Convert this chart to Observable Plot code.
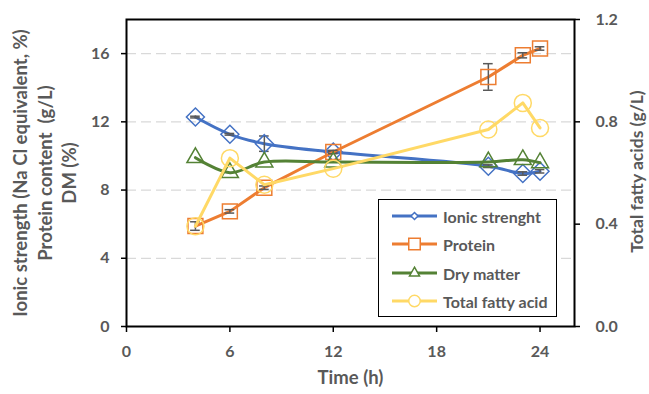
<!DOCTYPE html>
<html>
<head>
<meta charset="utf-8">
<script src="https://cdn.jsdelivr.net/npm/d3@7"></script>
<script src="https://cdn.jsdelivr.net/npm/@observablehq/plot@0.6"></script>
<style>
  html, body { margin: 0; padding: 0; background: #fff; }
  #wrap { position: relative; width: 649px; height: 394px; font-family: Lato, "Open Sans", sans-serif; }
  #legend { position: absolute; left: 378px; top: 199px; width: 177px; height: 116px;
    border: 1.5px solid #000; background: #fff; }
  .row { position: absolute; left: 0; height: 22px; display: flex; align-items: center; }
  .row span { font-size: 16px; font-weight: 700; color: #595959; margin-left: 3px; white-space: nowrap; }
</style>
</head>
<body>
<div id="wrap"></div>
<script>
// ---- data ----
const time = [4, 6, 8, 12, 21, 23, 24];
const ionic = [12.28, 11.27, 10.72, 10.23, 9.4, 8.97, 9.1];
const ionicErr = [0.05, 0.05, 0.45, 0.05, 0.08, 0.1, 0.1];
const protein = [5.89, 6.75, 8.14, 10.23, 14.63, 15.9, 16.3];
const proteinErr = [0.25, 0.1, 0.1, 0.1, 0.78, 0.15, 0.1];
const dryMatter = [9.9, 9.02, 9.64, 9.64, 9.65, 9.78, 9.6];
const fattyAcid = [0.392, 0.658, 0.554, 0.617, 0.77, 0.874, 0.776];

const seriesNames = ["Ionic strenght", "Protein", "Dry matter", "Total fatty acid"];
const colors = ["#4472C4", "#ED7D31", "#548235", "#FFD966"];
const symbols = ["diamond2", "square2", "triangle2", "circle"];

const xTicks = [0, 6, 12, 18, 24];
const yTicks = [0, 4, 8, 12, 16];
const gridTicks = [4, 8, 12, 16];
const rightTicks = [0, 0.4, 0.8, 1.2];
const ratio = 15; // left/right axis ratio (18 <-> 1.2)

const leftLabel = "Ionic strength (Na Cl equivalent, %)\nProtein content\u00A0 (g/L)\nDM (%)";
const rightLabel = "Total fatty acids (g/L)";
const xLabel = "Time (h)";

// ---- tables ----
const mk = (vals, errs) => time.map((t, i) => ({t, v: vals[i], e: errs ? errs[i] : 0}));
const dIon = mk(ionic, ionicErr);
const dPro = mk(protein, proteinErr);
const dDm = mk(dryMatter);
const dTfa = time.map((t, i) => ({t, v: fattyAcid[i] * ratio}));

const cap = 0.28;
function errMarks(data) {
  return [
    Plot.ruleX(data, {x: "t", y1: d => d.v - d.e, y2: d => d.v + d.e, stroke: "#595959", strokeWidth: 1.5}),
    Plot.ruleY(data, {y: d => d.v - d.e, x1: d => d.t - cap, x2: d => d.t + cap, stroke: "#595959", strokeWidth: 1.5}),
    Plot.ruleY(data, {y: d => d.v + d.e, x1: d => d.t - cap, x2: d => d.t + cap, stroke: "#595959", strokeWidth: 1.5})
  ];
}

const chart = Plot.plot({
  width: 649,
  height: 394,
  marginLeft: 126,
  marginRight: 75,
  marginTop: 19,
  marginBottom: 68,
  style: {fontFamily: "Lato, 'Open Sans', sans-serif", fontSize: "16px", fontWeight: 700, background: "#fff"},
  x: {domain: [0, 26]},
  y: {domain: [0, 18]},
  marks: [
    Plot.ruleY(gridTicks, {stroke: "#d9d9d9", strokeWidth: 1.3, strokeDasharray: "10,5"}),
    // Ionic
    Plot.line(dIon, {x: "t", y: "v", stroke: colors[0], strokeWidth: 3, curve: "catmull-rom"}),
    ...errMarks(dIon),
    Plot.dot(dIon, {x: "t", y: "v", symbol: symbols[0], r: 8.1, stroke: colors[0], strokeWidth: 1.5, fill: "none"}),
    // Protein
    Plot.line(dPro, {x: "t", y: "v", stroke: colors[1], strokeWidth: 3}),
    ...errMarks(dPro),
    Plot.dot(dPro, {x: "t", y: "v", symbol: symbols[1], r: 9.5, stroke: colors[1], strokeWidth: 1.5, fill: "none"}),
    // Dry matter
    Plot.line(dDm, {x: "t", y: "v", stroke: colors[2], strokeWidth: 3, curve: "catmull-rom"}),
    Plot.dot(dDm, {x: "t", y: "v", symbol: symbols[2], r: 8.1, stroke: colors[2], strokeWidth: 1.5, fill: "none"}),
    // Total fatty acid (secondary axis)
    Plot.line(dTfa, {x: "t", y: "v", stroke: colors[3], strokeWidth: 3}),
    Plot.dot(dTfa, {x: "t", y: "v", symbol: symbols[3], r: 8.5, stroke: colors[3], strokeWidth: 1.5, fill: "none"}),
    // frame & axes
    Plot.frame({stroke: "#000", strokeWidth: 2}),
    Plot.axisX({ticks: xTicks, tickSize: 6, tickPadding: 13, stroke: "#000", strokeWidth: 1.5, fill: "#595959", label: null}),
    Plot.axisY({ticks: yTicks, tickSize: 5, tickPadding: 12, stroke: "#000", strokeWidth: 1.5, fill: "#595959", label: null}),
    Plot.axisY({anchor: "right", ticks: rightTicks.map(v => v * ratio), tickFormat: d => (d / ratio).toFixed(1),
      tickSize: 5, tickPadding: 16, stroke: "#000", strokeWidth: 1.5, fill: "#595959", label: null}),
    Plot.text([xLabel], {frameAnchor: "bottom", dy: 57, fill: "#595959", fontWeight: 700, fontSize: 18.5}),
    Plot.text([leftLabel], {frameAnchor: "left", textAnchor: "middle", rotate: -90, dx: -82.5, lineHeight: 1.32, fill: "#595959", fontWeight: 700, fontSize: 18.5}),
    Plot.text([rightLabel], {frameAnchor: "right", textAnchor: "middle", rotate: -90, dx: 63, dy: -1.5, fill: "#595959", fontWeight: 700, fontSize: 17.5})
  ]
});

const wrap = document.getElementById("wrap");
wrap.appendChild(chart);

// ---- legend (inside plot area) ----
const legend = document.createElement("div");
legend.id = "legend";
const legendSizes = [[7, "diamond2"], [11.5, "square2"], [10, "triangle2"], [11.5, "circle"]];
const rowTops = [5, 33, 62, 90];
seriesNames.forEach((name, i) => {
  const row = document.createElement("div");
  row.className = "row";
  row.style.top = rowTops[i] + "px";
  const svgNS = "http://www.w3.org/2000/svg";
  const svg = document.createElementNS(svgNS, "svg");
  svg.setAttribute("width", 61); svg.setAttribute("height", 22);
  const line = document.createElementNS(svgNS, "line");
  line.setAttribute("x1", 13); line.setAttribute("x2", 58);
  line.setAttribute("y1", 11); line.setAttribute("y2", 11);
  line.setAttribute("stroke", colors[i]); line.setAttribute("stroke-width", 3);
  svg.appendChild(line);
  const w = legendSizes[i][0];
  let path;
  if (symbols[i] === "circle") {
    path = document.createElementNS(svgNS, "circle");
    path.setAttribute("cx", 35.5); path.setAttribute("cy", 11); path.setAttribute("r", w / 2);
  } else {
    const consts = {diamond2: 0.62625 * 2, square2: 0.4431 * 2, triangle2: 0.6824 * Math.sqrt(3)};
    const s = w / consts[symbols[i]];
    const sym = {diamond2: d3.symbolDiamond2, square2: d3.symbolSquare2, triangle2: d3.symbolTriangle2}[symbols[i]];
    path = document.createElementNS(svgNS, "path");
    path.setAttribute("d", d3.symbol(sym, s * s)());
    path.setAttribute("transform", "translate(35.5,11)");
  }
  path.setAttribute("fill", "#fff"); path.setAttribute("stroke", colors[i]); path.setAttribute("stroke-width", 1.5);
  svg.appendChild(path);
  row.appendChild(svg);
  const span = document.createElement("span");
  span.textContent = name;
  row.appendChild(span);
  legend.appendChild(row);
});
wrap.appendChild(legend);
</script>
</body>
</html>
